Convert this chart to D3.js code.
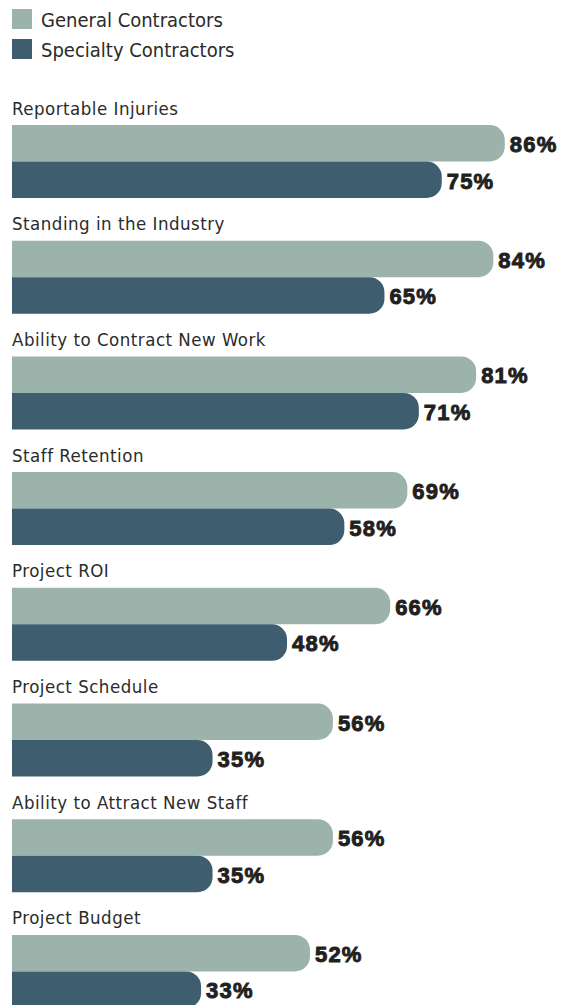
<!DOCTYPE html>
<html>
<head>
<meta charset="utf-8">
<script src="https://cdn.jsdelivr.net/npm/d3@7"></script>
<style>
  html, body { margin: 0; padding: 0; background: #ffffff; }
  svg { display: block; }
</style>
</head>
<body>
<svg id="chart" width="564" height="1005"></svg>
<script>
// Share of respondents citing each area, by contractor type
const categories = [
  "Reportable Injuries",
  "Standing in the Industry",
  "Ability to Contract New Work",
  "Staff Retention",
  "Project ROI",
  "Project Schedule",
  "Ability to Attract New Staff",
  "Project Budget"
];
const seriesNames = ["General Contractors", "Specialty Contractors"];
const generalValues = [86, 84, 81, 69, 66, 56, 56, 52];
const specialtyValues = [75, 65, 71, 58, 48, 35, 35, 33];
const seriesColors = ["#9bb3aa", "#3e5d6e"];

const svg = d3.select("#chart");
const labelFont = "'Liberation Sans Narrow', 'DejaVu Sans Condensed', Arial, sans-serif";
const valueFont = "'Liberation Sans', Arial, sans-serif";

// Horizontal scale: value (%) to pixel
const x = d3.scaleLinear().domain([0, 100]).range([12, 585]);

// Vertical band per category group
const groupStep = 115.7;
const y = d3.scaleBand()
  .domain(categories)
  .range([97, 97 + groupStep * categories.length])
  .paddingInner(0).paddingOuter(0);

const barH = 36.5;
const radius = 15;

// Bar with a square left end and rounded right corners
function roundedBar(x0, x1, y0, h, r) {
  const p = d3.path();
  r = Math.min(r, (x1 - x0), h / 2);
  p.moveTo(x0, y0);
  p.lineTo(x1 - r, y0);
  p.arcTo(x1, y0, x1, y0 + r, r);
  p.lineTo(x1, y0 + h - r);
  p.arcTo(x1, y0 + h, x1 - r, y0 + h, r);
  p.lineTo(x0, y0 + h);
  p.closePath();
  return p.toString();
}

// Legend
const legend = svg.append("g");
seriesNames.forEach((name, i) => {
  legend.append("rect")
    .attr("x", 12).attr("y", 9 + i * 30)
    .attr("width", 20).attr("height", 20)
    .attr("fill", seriesColors[i]);
  legend.append("text")
    .attr("x", 41).attr("y", 27 + i * 30)
    .attr("font-family", labelFont)
    .attr("font-size", 20)
    .attr("fill", "#2b2b2b")
    .text(name);
});

const rows = categories.map((c, i) => ({
  category: c,
  values: [generalValues[i], specialtyValues[i]]
}));

const group = svg.selectAll("g.group")
  .data(rows)
  .join("g")
  .attr("class", "group")
  .attr("transform", d => `translate(0,${y(d.category)})`);

group.append("text")
  .attr("x", 12).attr("y", 17.5)
  .attr("font-family", labelFont)
  .attr("font-size", 18.5)
  .attr("letter-spacing", 0.5)
  .attr("fill", "#2b2b2b")
  .text(d => d.category);

const bars = group.selectAll("g.bar")
  .data(d => d.values.map((v, j) => ({ v, j })))
  .join("g")
  .attr("class", "bar");

bars.append("path")
  .attr("d", d => roundedBar(x(0), x(d.v), 28 + d.j * barH, barH, radius))
  .attr("fill", d => seriesColors[d.j]);

bars.append("text")
  .attr("x", d => x(d.v) + 5)
  .attr("y", d => 28 + d.j * barH + barH / 2 + 8.8)
  .attr("font-family", valueFont)
  .attr("font-weight", "bold")
  .attr("font-size", 22)
  .attr("letter-spacing", 1.2)
  .attr("fill", "#231f20")
  .attr("stroke", "#231f20")
  .attr("stroke-width", 0.9)
  .text(d => d.v + "%");
</script>
</body>
</html>
